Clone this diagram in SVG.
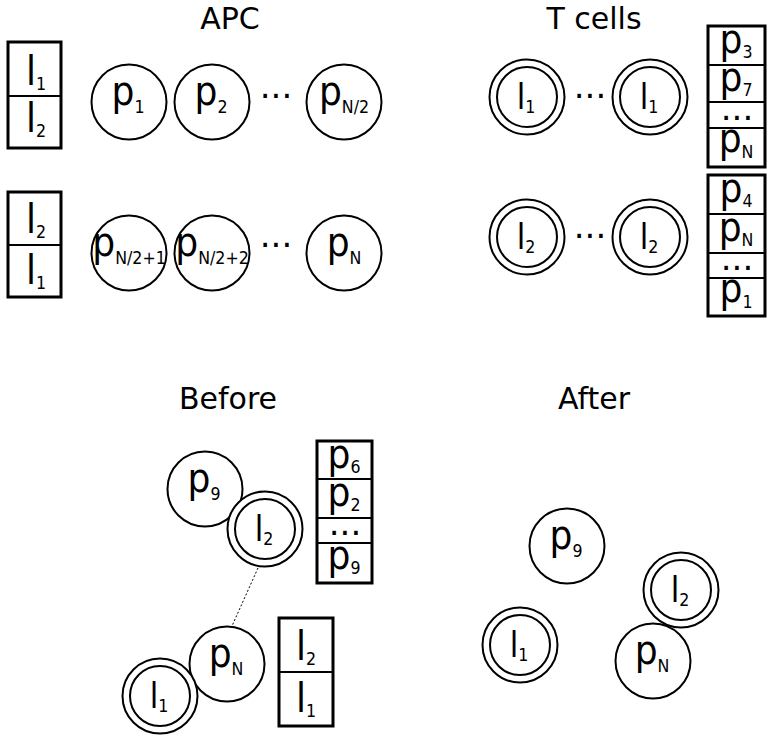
<svg xmlns="http://www.w3.org/2000/svg" width="772" height="742" viewBox="0 0 772 742">
<style>
text{font-family:"DejaVu Sans","Liberation Sans",sans-serif;fill:#000}
.t{font-size:30px;text-anchor:middle}
.c{fill:#fff;stroke:#000;stroke-width:2}
.b{fill:#fff;stroke:#000;stroke-width:3}
.d{stroke:#000;stroke-width:2}
.m,.n{text-anchor:middle}
.m{font-size:41px}
.n{font-size:35px}
.s{font-size:18px}
.e{font-size:34px;text-anchor:middle}
</style>
<defs>
<g id="dc"><circle class="c" r="37.5"/><circle class="c" r="30"/></g>
</defs>
<g id="titles">
<text class="t" x="230" y="29">APC</text>
<text class="t" x="594" y="29">T cells</text>
<text class="t" x="228" y="409">Before</text>
<text class="t" x="594" y="409">After</text>
</g>
<g id="connectors">
<line x1="258" y1="568" x2="232" y2="626" stroke="#000" stroke-width="1" stroke-dasharray="2,2"/>
</g>
<g id="apc-box1">
<rect class="b" x="8" y="42" width="53" height="106"/>
<line class="d" x1="8" y1="96" x2="61" y2="96"/>
<text class="m" transform="translate(36 85) scale(0.88 1)">l<tspan class="s" dy="5">1</tspan></text>
<text class="m" transform="translate(36 132) scale(0.88 1)">l<tspan class="s" dy="5">2</tspan></text>
</g>
<g id="apc-box2">
<rect class="b" x="8" y="192" width="53" height="105"/>
<line class="d" x1="8" y1="245" x2="61" y2="245"/>
<text class="m" transform="translate(36 233) scale(0.88 1)">l<tspan class="s" dy="5">2</tspan></text>
<text class="m" transform="translate(36 284) scale(0.88 1)">l<tspan class="s" dy="5">1</tspan></text>
</g>
<g id="p1"><circle class="c" cx="129" cy="102" r="37.5"/><text class="m" transform="translate(128 105) scale(0.88 1)">p<tspan class="s" dy="8">1</tspan></text></g>
<g id="p2"><circle class="c" cx="212" cy="102" r="37.5"/><text class="m" transform="translate(211 105) scale(0.88 1)">p<tspan class="s" dy="8">2</tspan></text></g>
<text class="e" x="276" y="98">...</text>
<g id="pN2"><circle class="c" cx="344" cy="102" r="37.5"/><text class="m" transform="translate(344 105) scale(0.88 1)">p<tspan class="s" dy="8">N/2</tspan></text></g>
<g id="pN21"><circle class="c" cx="129" cy="253" r="37.5"/><text class="m" transform="translate(129 256) scale(0.88 1)">p<tspan class="s" dy="8">N/2+1</tspan></text></g>
<g id="pN22"><circle class="c" cx="212" cy="253" r="37.5"/><text class="m" transform="translate(212 256) scale(0.88 1)">p<tspan class="s" dy="8">N/2+2</tspan></text></g>
<text class="e" x="276" y="247">...</text>
<g id="pN"><circle class="c" cx="344" cy="253" r="37.5"/><text class="m" transform="translate(344 256) scale(0.88 1)">p<tspan class="s" dy="8">N</tspan></text></g>
<g id="t-l1a"><use href="#dc" x="527" y="97"/><text class="n" transform="translate(526 109) scale(0.88 1)">l<tspan class="s" dy="4">1</tspan></text></g>
<text class="e" x="590" y="98">...</text>
<g id="t-l1b"><use href="#dc" x="650" y="97"/><text class="n" transform="translate(649 109) scale(0.88 1)">l<tspan class="s" dy="4">1</tspan></text></g>
<g id="t-l2a"><use href="#dc" x="527" y="237"/><text class="n" transform="translate(526 249) scale(0.88 1)">l<tspan class="s" dy="4">2</tspan></text></g>
<text class="e" x="590" y="238">...</text>
<g id="t-l2b"><use href="#dc" x="650" y="237"/><text class="n" transform="translate(649 249) scale(0.88 1)">l<tspan class="s" dy="4">2</tspan></text></g>
<g id="t-box1">
<rect class="b" x="708" y="26" width="57" height="141"/>
<line class="d" x1="708" y1="65" x2="765" y2="65"/>
<line class="d" x1="708" y1="102" x2="765" y2="102"/>
<line class="d" x1="708" y1="128" x2="765" y2="128"/>
<text class="m" transform="translate(736 53) scale(0.88 1)">p<tspan class="s" dy="5">3</tspan></text>
<text class="m" transform="translate(736 91) scale(0.88 1)">p<tspan class="s" dy="5">7</tspan></text>
<text class="e" x="737" y="120">...</text>
<text class="m" transform="translate(736 152) scale(0.88 1)">p<tspan class="s" dy="6">N</tspan></text>
</g>
<g id="t-box2">
<rect class="b" x="708" y="175" width="57" height="141"/>
<line class="d" x1="708" y1="214" x2="765" y2="214"/>
<line class="d" x1="708" y1="253" x2="765" y2="253"/>
<line class="d" x1="708" y1="278" x2="765" y2="278"/>
<text class="m" transform="translate(736 202) scale(0.88 1)">p<tspan class="s" dy="5">4</tspan></text>
<text class="m" transform="translate(736 241) scale(0.88 1)">p<tspan class="s" dy="5">N</tspan></text>
<text class="e" x="737" y="270">...</text>
<text class="m" transform="translate(736 302) scale(0.88 1)">p<tspan class="s" dy="6">1</tspan></text>
</g>
<g id="b-p9"><circle class="c" cx="205" cy="489" r="37.5"/><text class="m" transform="translate(204 492) scale(0.88 1)">p<tspan class="s" dy="8">9</tspan></text></g>
<g id="b-l2"><use href="#dc" x="265" y="529"/><text class="n" transform="translate(264 541) scale(0.88 1)">l<tspan class="s" dy="4">2</tspan></text></g>
<g id="b-box1">
<rect class="b" x="317" y="441" width="55" height="142"/>
<line class="d" x1="317" y1="479" x2="372" y2="479"/>
<line class="d" x1="317" y1="518" x2="372" y2="518"/>
<line class="d" x1="317" y1="543" x2="372" y2="543"/>
<text class="m" transform="translate(344 468) scale(0.88 1)">p<tspan class="s" dy="5">6</tspan></text>
<text class="m" transform="translate(344 506) scale(0.88 1)">p<tspan class="s" dy="5">2</tspan></text>
<text class="e" x="345" y="535">...</text>
<text class="m" transform="translate(344 569) scale(0.88 1)">p<tspan class="s" dy="5">9</tspan></text>
</g>
<g id="b-pN"><circle class="c" cx="227" cy="664" r="37.5"/><text class="m" transform="translate(226 667) scale(0.88 1)">p<tspan class="s" dy="8">N</tspan></text></g>
<g id="b-l1"><use href="#dc" x="160" y="696"/><text class="n" transform="translate(159 708) scale(0.88 1)">l<tspan class="s" dy="4">1</tspan></text></g>
<g id="b-box2">
<rect class="b" x="279" y="618" width="54" height="108"/>
<line class="d" x1="279" y1="672" x2="333" y2="672"/>
<text class="m" transform="translate(306 660) scale(0.88 1)">l<tspan class="s" dy="5">2</tspan></text>
<text class="m" transform="translate(306 712) scale(0.88 1)">l<tspan class="s" dy="5">1</tspan></text>
</g>
<g id="a-p9"><circle class="c" cx="567" cy="546" r="37.5"/><text class="m" transform="translate(566 549) scale(0.88 1)">p<tspan class="s" dy="8">9</tspan></text></g>
<g id="a-l2"><use href="#dc" x="681" y="590"/><text class="n" transform="translate(680 602) scale(0.88 1)">l<tspan class="s" dy="4">2</tspan></text></g>
<g id="a-l1"><use href="#dc" x="520" y="645"/><text class="n" transform="translate(519 657) scale(0.88 1)">l<tspan class="s" dy="4">1</tspan></text></g>
<g id="a-pN"><circle class="c" cx="653" cy="661" r="37.5"/><text class="m" transform="translate(652 664) scale(0.88 1)">p<tspan class="s" dy="8">N</tspan></text></g>
</svg>
